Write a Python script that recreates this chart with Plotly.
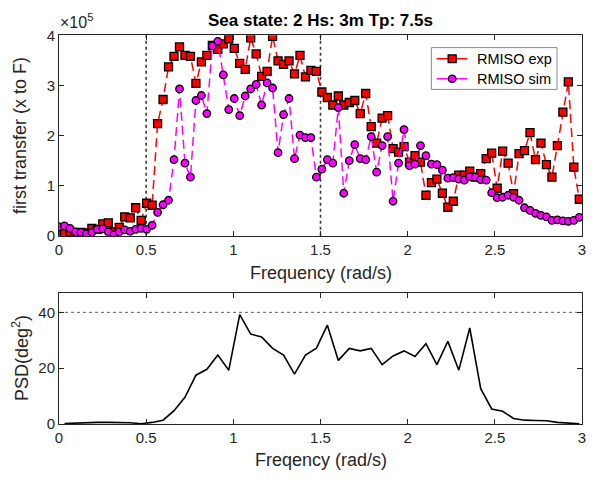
import plotly.graph_objects as go

# ---------------- data ----------------
# frequency grid of the transfer function (rad/s), step pi/100
freq = [0.0, 0.0314, 0.0628, 0.0942, 0.1257, 0.1571, 0.1885, 0.2199, 0.2513, 0.2827,
        0.3142, 0.3456, 0.377, 0.4084, 0.4398, 0.4712, 0.5027, 0.5341, 0.5655, 0.5969,
        0.6283, 0.6597, 0.6912, 0.7226, 0.754, 0.7854, 0.8168, 0.8482, 0.8796, 0.9111,
        0.9425, 0.9739, 1.0053, 1.0367, 1.0681, 1.0996, 1.131, 1.1624, 1.1938, 1.2252,
        1.2566, 1.2881, 1.3195, 1.3509, 1.3823, 1.4137, 1.4451, 1.4765, 1.508, 1.5394,
        1.5708, 1.6022, 1.6336, 1.665, 1.6965, 1.7279, 1.7593, 1.7907, 1.8221, 1.8535,
        1.885, 1.9164, 1.9478, 1.9792, 2.0106, 2.042, 2.0735, 2.1049, 2.1363, 2.1677,
        2.1991, 2.2305, 2.2619, 2.2934, 2.3248, 2.3562, 2.3876, 2.419, 2.4504, 2.4819,
        2.5133, 2.5447, 2.5761, 2.6075, 2.6389, 2.6704, 2.7018, 2.7332, 2.7646, 2.796,
        2.8274, 2.8588, 2.8903, 2.9217, 2.9531, 2.9845]

# RMISO exp (x 1e5)
rmiso_exp = [0.04, 0.04, 0.08, 0.06, 0.07, 0.06, 0.15, 0.13, 0.24, 0.26,
             0.08, 0.17, 0.38, 0.36, 0.56, 0.31, 0.65, 0.61, 2.24, 2.72,
             3.37, 3.58, 3.77, 3.60, 3.58, 3.04, 3.47, 3.60, 3.80, 3.72,
             3.83, 3.93, 3.74, 3.44, 3.32, 3.95, 3.63, 3.18, 3.28, 3.98,
             3.49, 3.42, 3.49, 3.23, 3.60, 3.17, 3.30, 3.28, 2.87, 2.76,
             2.61, 2.79, 2.61, 2.66, 2.70, 2.44, 2.84, 2.18, 1.85, 2.35,
             2.40, 1.74, 1.67, 1.78, 1.47, 1.60, 1.47, 0.81, 1.06, 1.13,
             0.85, 0.57, 0.69, 1.21, 1.21, 1.29, 1.17, 1.24, 1.54, 1.65,
             0.95, 1.69, 1.45, 0.84, 1.64, 1.70, 2.06, 1.52, 1.85, 1.42,
             1.17, 1.80, 2.47, 3.07, 1.37, 0.73]

# RMISO sim (x 1e5)
rmiso_sim = [0.18, 0.20, 0.15, 0.08, 0.07, 0.04, 0.07, 0.13, 0.14, 0.08,
             0.02, 0.08, 0.12, 0.09, 0.13, 0.15, 0.13, 0.21, 0.47, 0.62,
             0.71, 1.52, 2.93, 1.45, 1.17, 2.70, 2.80, 2.44, 3.79, 3.88,
             3.21, 2.52, 2.74, 2.40, 2.79, 2.93, 3.02, 2.61, 3.05, 2.95,
             1.66, 2.42, 2.74, 1.54, 2.01, 1.96, 1.96, 1.17, 1.33, 1.52,
             1.45, 2.56, 0.85, 1.50, 1.82, 1.54, 1.52, 1.98, 1.27, 1.80,
             1.98, 0.69, 1.45, 2.12, 1.40, 1.43, 1.80, 1.60, 1.43, 1.42,
             1.31, 1.15, 1.16, 1.13, 1.11, 1.18, 1.17, 1.12, 1.11, 0.86,
             0.76, 0.77, 0.81, 0.77, 0.71, 0.56, 0.51, 0.45, 0.41, 0.38,
             0.31, 0.32, 0.30, 0.29, 0.31, 0.37]

# PSD spectrum
psd_freq = [0.0314, 0.0942, 0.1571, 0.2199, 0.2827, 0.3456, 0.4084, 0.4712, 0.5341, 0.5969,
            0.6597, 0.7226, 0.7854, 0.8482, 0.9111, 0.9739, 1.0367, 1.0996, 1.1624, 1.2252,
            1.2881, 1.3509, 1.4137, 1.4765, 1.5394, 1.6022, 1.665, 1.7279, 1.7907, 1.8535,
            1.9164, 1.9792, 2.042, 2.1049, 2.1677, 2.2305, 2.2934, 2.3562, 2.419, 2.4819,
            2.5447, 2.6075, 2.6704, 2.7332, 2.796, 2.8588, 2.9217, 2.9845]
psd_val = [0.2, 0.4, 0.6, 0.6, 0.6, 0.5, 0.5, 0.1, 0.6, 1.4,
           4.8, 9.6, 17.5, 19.6, 24.7, 19.3, 39.2, 32.2, 31.2, 27.1,
           24.7, 17.9, 24.7, 27.2, 35.4, 22.8, 27.1, 26.2, 27.1, 21.3,
           24.4, 26.2, 24.2, 28.8, 21.3, 29.6, 19.3, 34.4, 12.7, 5.4,
           4.6, 2.0, 1.4, 1.3, 1.2, 0.6, 0.3, 0.1]

band_lines = [0.5, 1.5]
psd_limit = 40

x_ticks = [0, 0.5, 1, 1.5, 2, 2.5, 3]
x_ticktext = ["0", "0.5", "1", "1.5", "2", "2.5", "3"]
top_yticks = [0, 1, 2, 3, 4]
bot_yticks = [0, 20, 40]

series_names = ["RMISO exp", "RMISO sim"]
series_colors = ["#FF0000", "#FF00FF"]

# ---------------- figure ----------------
W, H = 610, 490
L, R = 59.4, 582.3
FONT = "Liberation Sans, Arial, sans-serif"
AX = "#262626"

def py(px):  # pixel row -> paper fraction (t=b=0)
    return 1 - px / H

def pxx(px):
    return (px - L) / (R - L)

fig = go.Figure()

fig.add_trace(go.Scatter(
    x=freq, y=rmiso_exp, mode="lines+markers", name=series_names[0],
    line=dict(color=series_colors[0], width=1.5, dash="9px,5px"),
    marker=dict(symbol="square", size=8, color=series_colors[0],
                line=dict(color="#000000", width=1.3)),
    xaxis="x", yaxis="y"))
fig.add_trace(go.Scatter(
    x=freq, y=rmiso_sim, mode="lines+markers", name=series_names[1],
    line=dict(color=series_colors[1], width=1.5, dash="9px,5px"),
    marker=dict(symbol="circle", size=7.5, color=series_colors[1],
                line=dict(color="#000000", width=1.3)),
    xaxis="x", yaxis="y"))
fig.add_trace(go.Scatter(
    x=psd_freq, y=psd_val, mode="lines", showlegend=False,
    line=dict(color="#000000", width=1.6),
    xaxis="x2", yaxis="y2"))

for xv in band_lines:
    fig.add_shape(type="line", xref="x", yref="y domain", x0=xv, x1=xv, y0=0, y1=1,
                  line=dict(color="#3a3a3a", width=1.6, dash="dot"), layer="below")
fig.add_shape(type="line", xref="x2 domain", yref="y2", x0=0, x1=1, y0=psd_limit, y1=psd_limit,
              line=dict(color="#606060", width=1, dash="dot"), layer="below")

# ---- legend box (drawn by hand to match the MATLAB legend) ----
bx0, bx1, by0, by1 = 431.7, 557.3, 40.0, 83.3
fig.add_shape(type="rect", xref="paper", yref="paper",
              x0=pxx(bx0), x1=pxx(bx1), y0=py(by1), y1=py(by0),
              fillcolor="white", line=dict(color="#8a8a8a", width=1), layer="above")
entry_rows = [51.5, 72.3]
legend_ann = []
for k, yy in enumerate(entry_rows):
    fig.add_shape(type="line", xref="paper", yref="paper",
                  x0=pxx(437), x1=pxx(467.5), y0=py(yy), y1=py(yy),
                  line=dict(color=series_colors[k], width=1.5), layer="above")
    s = 4.0 if k == 0 else 3.8
    fig.add_shape(type="rect" if k == 0 else "circle", xref="paper", yref="paper",
                  x0=pxx(452.5 - s), x1=pxx(452.5 + s), y0=py(yy + s), y1=py(yy - s),
                  fillcolor=series_colors[k], line=dict(color="#000000", width=1.3),
                  layer="above")
    legend_ann.append(dict(text=series_names[k], x=pxx(475.5), y=py(yy), xref="paper",
                           yref="paper", showarrow=False, xanchor="left", yanchor="middle",
                           font=dict(family=FONT, size=14.5, color="#000000")))

axis_common = dict(showline=True, linecolor=AX, linewidth=1, mirror="allticks",
                   ticks="inside", ticklen=5, tickcolor=AX, showgrid=False, zeroline=False,
                   tickfont=dict(family=FONT, size=15, color=AX))

fig.update_layout(
    width=W, height=H,
    margin=dict(l=L, r=W - R, t=0, b=0),
    paper_bgcolor="white", plot_bgcolor="white",
    font=dict(family=FONT, color=AX),
    xaxis=dict(domain=[0, 1], range=[0, 3], tickvals=x_ticks, ticktext=x_ticktext,
               anchor="y", **axis_common),
    yaxis=dict(domain=[py(235), py(27.3)], range=[0, 4], tickvals=top_yticks,
               anchor="x", **axis_common),
    xaxis2=dict(domain=[0, 1], range=[0, 3], tickvals=x_ticks, ticktext=x_ticktext,
                anchor="y2", **axis_common),
    yaxis2=dict(domain=[py(430), py(294)], range=[0, 47], tickvals=bot_yticks,
                anchor="x2", **axis_common),
    showlegend=False,
)

ann = [
    dict(text="<b>Sea state: 2 Hs: 3m Tp: 7.5s</b>", x=0.5, y=py(12), xref="paper", yref="paper",
         showarrow=False, font=dict(family=FONT, size=17, color="#000000"),
         xanchor="center", yanchor="middle"),
    dict(text="×10<sup>5</sup>", x=pxx(58), y=py(25), xref="paper", yref="paper",
         showarrow=False, font=dict(family=FONT, size=16, color=AX),
         xanchor="left", yanchor="bottom"),
    dict(text="first transfer (x to F)", x=pxx(21), y=py(131), xref="paper", yref="paper",
         showarrow=False, textangle=-90, font=dict(family=FONT, size=18, color=AX),
         xanchor="center", yanchor="middle"),
    dict(text="Frequency (rad/s)", x=0.5, y=py(273), xref="paper", yref="paper",
         showarrow=False, font=dict(family=FONT, size=18, color=AX),
         xanchor="center", yanchor="middle"),
    dict(text="PSD(deg<sup>2</sup>)", x=pxx(21), y=py(362), xref="paper", yref="paper",
         showarrow=False, textangle=-90, font=dict(family=FONT, size=18, color=AX),
         xanchor="center", yanchor="middle"),
    dict(text="Freqency (rad/s)", x=0.5, y=py(467), xref="paper", yref="paper",
         showarrow=False, font=dict(family=FONT, size=18, color=AX),
         xanchor="center", yanchor="middle"),
]
fig.update_layout(annotations=ann + legend_ann)

fig.write_html("out.html")
